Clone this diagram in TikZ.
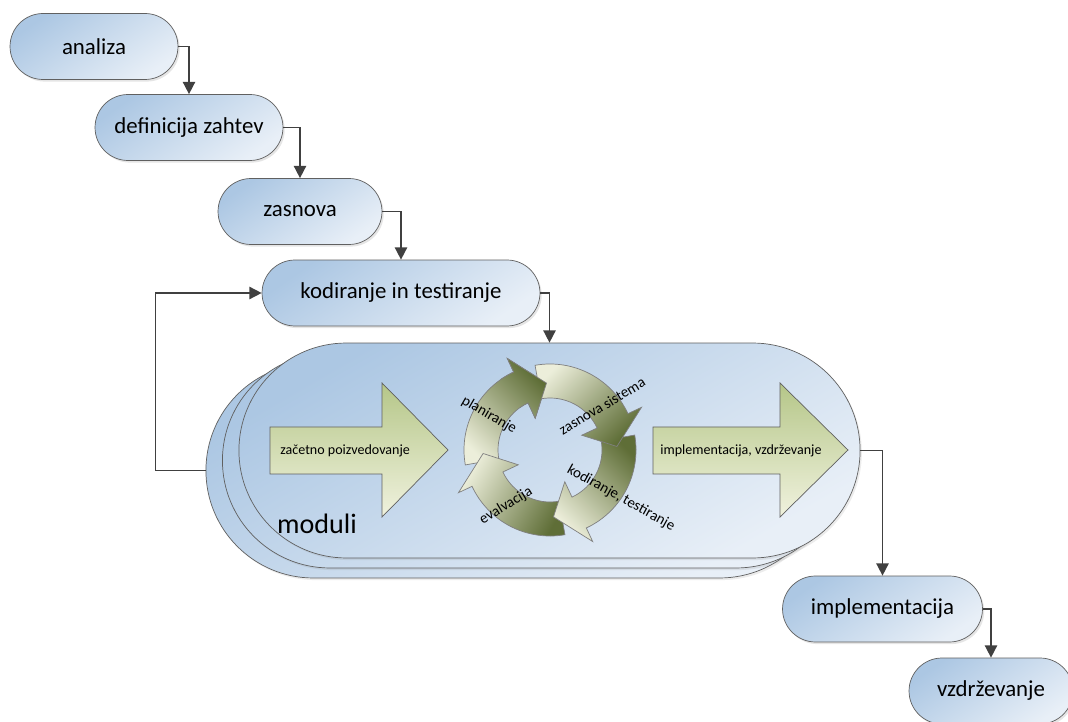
\documentclass[tikz,border=0pt]{standalone}
\usepackage{fontspec}
\setmainfont{Carlito}
\usetikzlibrary{arrows.meta,positioning,shapes.misc,shadows}
\definecolor{boxtop}{RGB}{172,199,227}
\definecolor{boxbot}{RGB}{232,239,247}
\definecolor{boxline}{RGB}{96,96,96}
\definecolor{linkgray}{RGB}{64,64,64}
\definecolor{greentop}{RGB}{181,198,136}
\definecolor{greenbot}{RGB}{240,242,222}
\definecolor{ringdark}{RGB}{95,110,55}
\definecolor{ringpale}{RGB}{236,238,218}
\tikzset{phase/.style={rounded rectangle, draw=boxline, top color=boxtop, bottom color=boxbot, shading angle=35, minimum height=1.32cm, inner sep=0pt, font=\fontsize{13}{15}\selectfont, drop shadow={shadow xshift=1pt, shadow yshift=-1.2pt, opacity=0.2}}}
\tikzset{module/.style={rounded rectangle, draw=boxline, top color=boxtop, bottom color=boxbot, shading angle=30, minimum width=12.66cm, minimum height=4.3cm, drop shadow={shadow xshift=1pt, shadow yshift=-1.2pt, opacity=0.15}}}
\tikzset{link/.style={draw=linkgray, line width=0.9pt, -{Triangle[length=7pt,width=7pt]}}}
\tikzset{bigarrow/.style={draw=boxline, top color=greentop, bottom color=greenbot}}
\tikzset{ringseg/.style={draw=boxline!80, top color=ringpale, bottom color=ringdark}}
\tikzset{ringlabel/.style={inner sep=0pt, font=\fontsize{8.5}{10}\selectfont}}
% tail angle, head base angle, tip angle, shading angle
\newcommand{\ringpart}[4]{%
  \path[ringseg, shading angle=#4] (#1:86) arc[start angle=#1, end angle=#2, radius=86]
    -- (#2:101) -- (#3:67) -- (#2:35) -- (#2:52) arc[start angle=#2, end angle=#1, radius=52] -- cycle;}

\begin{document}
\begin{tikzpicture}[x=0.02cm, y=-0.02cm]
    \path[use as bounding box, fill=white] (0,0) rectangle (1068,722);

    \node[phase, minimum width=3.36cm] (analiza) at (94,46.5) {analiza};
    \node[phase, minimum width=3.76cm] (zahteve) at (189,127.5) {definicija zahtev};
    \node[phase, minimum width=3.28cm] (zasnova) at (300,211.5) {zasnova};
    \node[phase, minimum width=5.56cm] (kodiranje) at (401,293) {kodiranje in testiranje};
    \node[phase, minimum width=4.0cm] (impl) at (882.5,609) {implementacija};
    \node[phase, minimum width=3.28cm] (vzd) at (991,691) {vzdrževanje};

    \node[module] (back) at (516.5,470.5) {};
    \node[module] (middle) at (533,460.5) {};
    \node[module] (front) at (549.5,450.5) {};
    \node[font=\fontsize{16}{18}\selectfont] (moduli) at (317,524) {moduli};

    \path[bigarrow] (270,427) -- (382,427) -- (382,383) -- (448,450) -- (382,517) -- (382,474) -- (270,474) -- cycle;
    \node[anchor=west, inner sep=0pt, font=\fontsize{8}{9}\selectfont] (zacetek) at (280,450.5) {začetno poizvedovanje};
    \path[bigarrow] (653,427) -- (780,427) -- (780,383) -- (848,450) -- (780,517) -- (780,474) -- (653,474) -- cycle;
    \node[anchor=west, inner sep=0pt, font=\fontsize{8}{9}\selectfont] (uvedba) at (660,450.5) {implementacija, vzdrževanje};

    \begin{scope}[shift={(550,450)}, x=0.02cm, y=0.02cm]
        \ringpart{190}{115}{93}{135}
        \ringpart{-80}{-155}{-177}{60}
        \ringpart{10}{-65}{-87}{135}
        \ringpart{100}{25}{3}{45}
        \begin{scope}
            \clip (0,0) -- (90:120) arc[start angle=90, end angle=125, radius=120] -- cycle;
            \ringpart{190}{115}{93}{135}
        \end{scope}
    \end{scope}
    \node[ringlabel, rotate=-30] (plan) at (489,415) {planiranje};
    \node[ringlabel, rotate=31] (sistem) at (602,406) {zasnova sistema};
    \node[ringlabel, rotate=-29] (kodtest) at (621,498) {kodiranje, testiranje};
    \node[ringlabel, rotate=31] (eval) at (506,506) {evalvacija};

    \draw[link] (analiza.east) -| (zahteve.north);
    \draw[link] (zahteve.east) -| (zasnova.north);
    \draw[link] (zasnova.east) -| (kodiranje.north);
    \draw[link] (kodiranje.east) -| (front.north);
    \draw[link] (front.east) -| (impl.north);
    \draw[link] (impl.east) -| (vzd.north);
    \draw[link] (back.west) -- ++(-50,0) |- (kodiranje.west);
\end{tikzpicture}
\end{document}
